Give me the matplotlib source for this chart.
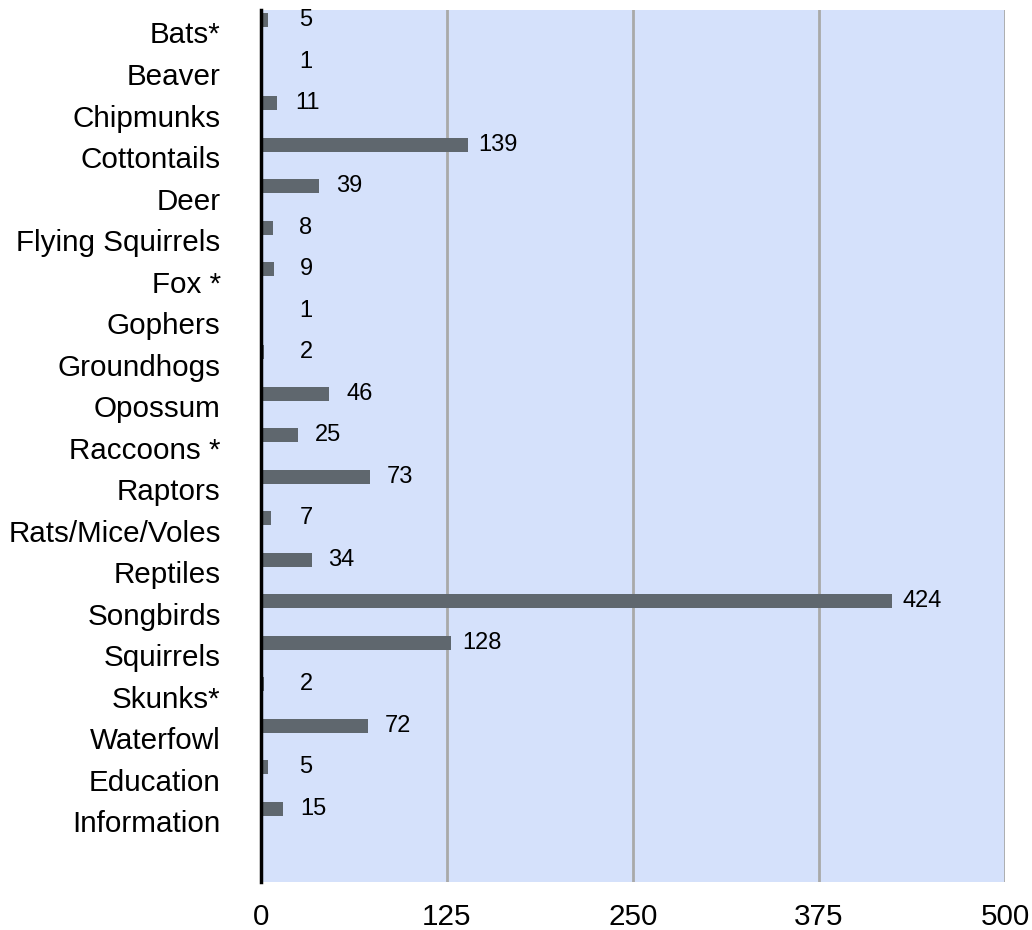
import matplotlib
matplotlib.use("Agg")
import matplotlib.pyplot as plt

categories = ["Bats*", "Beaver", "Chipmunks", "Cottontails", "Deer",
              "Flying Squirrels", "Fox *", "Gophers", "Groundhogs", "Opossum",
              "Raccoons *", "Raptors", "Rats/Mice/Voles", "Reptiles", "Songbirds",
              "Squirrels", "Skunks*", "Waterfowl", "Education", "Information"]
counts = [5, 1, 11, 139, 39, 8, 9, 1, 2, 46, 25, 73, 7, 34, 424, 128, 2, 72, 5, 15]
x_ticks = [0, 125, 250, 375, 500]

plt.rcParams['font.family'] = ['Liberation Sans', 'DejaVu Sans']

fig = plt.figure(figsize=(10.32, 9.3), dpi=100)
ax = fig.add_axes([0.2529, 0.0516, 0.7209, 0.9376])
ax.set_facecolor("#d5e1fb")

pos = list(range(len(categories)))
ax.barh(pos, counts, height=0.34, color="#5f676e", zorder=3)

# value labels to the right of each bar
xmax = x_ticks[-1]
px_per_unit = 744 / xmax
for y, v in zip(pos, counts):
    cx = max(v + 30 / px_per_unit, 45 / px_per_unit)
    ax.text(cx, y, str(v), ha="center", va="center", fontsize=17, zorder=4)

ax.set_xlim(0, xmax)
ax.set_ylim(len(categories) + 0.76, -0.24)
ax.set_xticks(x_ticks)
ax.set_xticklabels([str(t) for t in x_ticks], fontsize=21.3)
ax.set_yticks([p + 0.3 for p in pos])
ax.set_yticklabels(categories, fontsize=21.3)
ax.tick_params(axis="both", length=0)
ax.tick_params(axis="y", pad=29)
ax.tick_params(axis="x", pad=15)

ax.grid(axis="x", color="#a9a9a9", linewidth=2, zorder=1)
ax.grid(axis="y", visible=False)
for s in ["top", "right", "bottom"]:
    ax.spines[s].set_visible(False)
ax.spines["left"].set_linewidth(2.5)
ax.spines["left"].set_color("black")
ax.spines["left"].set_zorder(5)

fig.savefig("out.png", dpi=100)
